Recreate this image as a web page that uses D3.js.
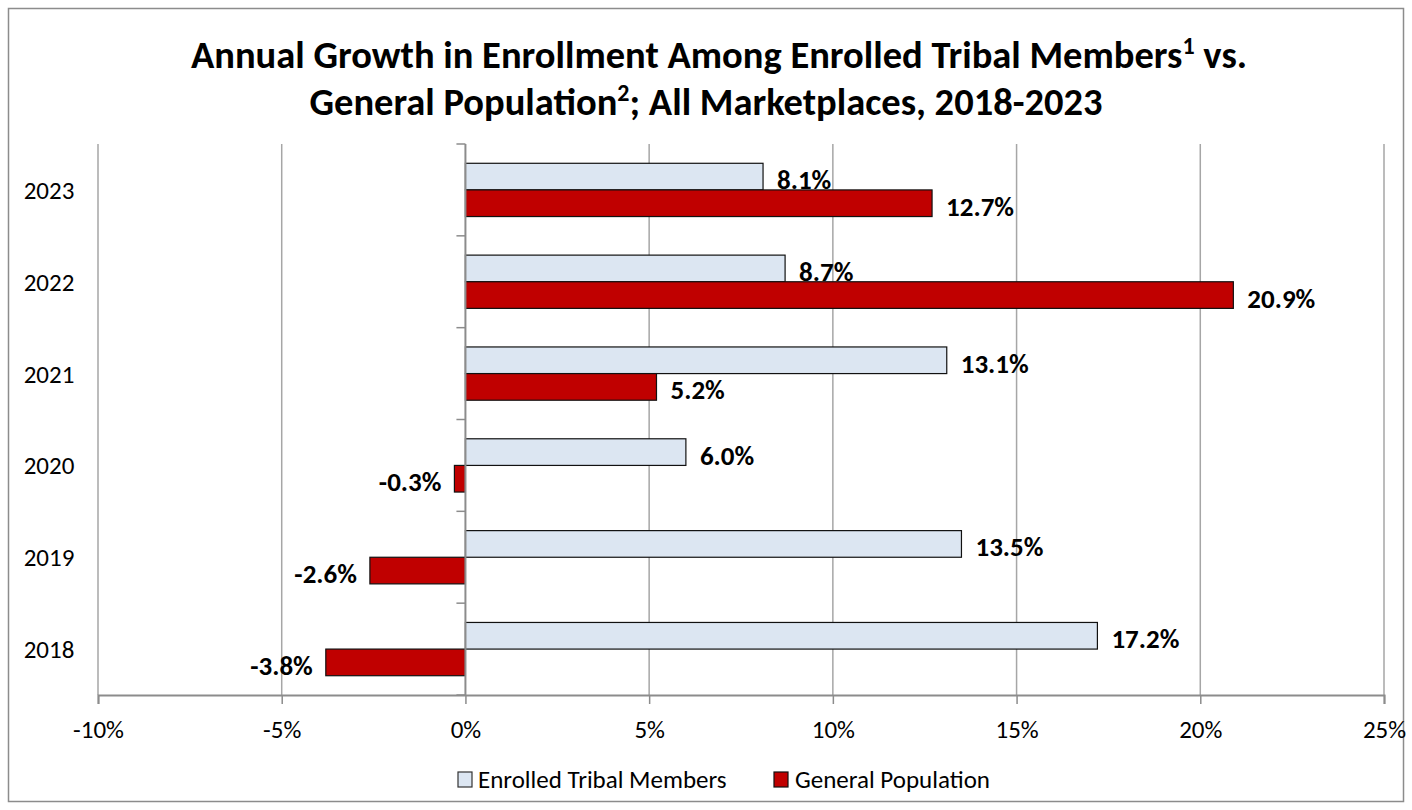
<!DOCTYPE html>
<html>
<head>
<meta charset="utf-8">
<script src="https://cdn.jsdelivr.net/npm/d3@7"></script>
<style>
  html, body { margin: 0; padding: 0; background: #fff; }
  svg { display: block; font-family: Carlito, Calibri, Lato, sans-serif; }
</style>
</head>
<body>
<svg id="chart" width="1412" height="810"></svg>
<script>
// Annual enrollment growth (%), tribal members vs. general population
const years = ["2023", "2022", "2021", "2020", "2019", "2018"];
const tribalGrowth = [8.1, 8.7, 13.1, 6.0, 13.5, 17.2];
const generalGrowth = [12.7, 20.9, 5.2, -0.3, -2.6, -3.8];
const xTicks = [-10, -5, 0, 5, 10, 15, 20, 25];
const seriesNames = ["Enrolled Tribal Members", "General Population"];
const seriesColors = ["#DCE6F2", "#C00000"];

const svg = d3.select("#chart");
const W = 1412, H = 810;
const pct = v => v.toFixed(1) + "%";

// outer frame
svg.append("rect")
  .attr("x", 8.5).attr("y", 8.5)
  .attr("width", W - 17).attr("height", H - 17)
  .attr("fill", "#fff").attr("stroke", "#8c8c8c").attr("stroke-width", 1.5);

// title
const title = svg.append("text")
  .attr("font-weight", "bold").attr("font-size", 38.5).attr("fill", "#000")
  .attr("text-anchor", "middle");
const l1 = title.append("tspan").attr("x", 719).attr("y", 68);
l1.append("tspan").text("Annual Growth in Enrollment Among Enrolled Tribal Members");
l1.append("tspan").attr("font-size", 24).attr("dy", -14).text("1");
l1.append("tspan").attr("dy", 14).text(" vs.");
const l2 = title.append("tspan").attr("x", 706).attr("y", 115);
l2.append("tspan").text("General Population");
l2.append("tspan").attr("font-size", 24).attr("dy", -14).text("2");
l2.append("tspan").attr("dy", 14).text("; All Marketplaces, 2018-2023");

// scales
const plot = { left: 98, right: 1384, top: 144, bottom: 695 };
const x = d3.scaleLinear().domain([-10, 25]).range([plot.left, plot.right]);
const y = d3.scaleBand().domain(years).range([plot.top, plot.bottom]).padding(0);
const barH = y.bandwidth() * 0.29;

// vertical gridlines
svg.append("g").selectAll("line")
  .data(xTicks.filter(d => d !== 0))
  .join("line")
  .attr("x1", d => x(d)).attr("x2", d => x(d))
  .attr("y1", plot.top).attr("y2", plot.bottom)
  .attr("stroke", "#a6a6a6").attr("stroke-width", 1.5);

// bottom axis
const xAxis = d3.axisBottom(x).tickValues(xTicks).tickSize(9).tickPadding(16)
  .tickFormat(d => d + "%");
const gx = svg.append("g").attr("transform", `translate(0,${plot.bottom})`).call(xAxis);
gx.select(".domain").attr("stroke", "#8c8c8c").attr("stroke-width", 2);
gx.selectAll(".tick line").attr("stroke", "#8c8c8c").attr("stroke-width", 1.5);
gx.selectAll(".tick text").attr("font-size", 25).attr("fill", "#000")
  .attr("font-family", "Carlito, Calibri, Lato, sans-serif");

// category axis at x = 0, ticks on band boundaries
const boundaries = years.map(d => y(d)).concat([plot.bottom]);
svg.append("g").selectAll("line")
  .data(boundaries)
  .join("line")
  .attr("x1", x(0) - 9).attr("x2", x(0))
  .attr("y1", d => d).attr("y2", d => d)
  .attr("stroke", "#8c8c8c").attr("stroke-width", 1.5);

// category labels on the left
svg.append("g").selectAll("text")
  .data(years)
  .join("text")
  .attr("x", 49).attr("y", d => y(d) + y.bandwidth() / 2 + 9)
  .attr("text-anchor", "middle").attr("font-size", 25).attr("fill", "#000")
  .text(d => d);

// bars with value labels
const series = [tribalGrowth, generalGrowth];
series.forEach((vals, si) => {
  const g = svg.append("g");
  const rows = years.map((yr, i) => ({ yr, v: vals[i] }));
  const top = d => y(d.yr) + y.bandwidth() / 2 - barH + si * barH;
  g.selectAll("rect")
    .data(rows)
    .join("rect")
    .attr("x", d => x(Math.min(0, d.v)))
    .attr("y", top)
    .attr("width", d => Math.abs(x(d.v) - x(0)))
    .attr("height", barH)
    .attr("fill", seriesColors[si])
    .attr("stroke", "#111").attr("stroke-width", 1.2);
  g.selectAll("text")
    .data(rows)
    .join("text")
    .attr("x", d => d.v >= 0 ? x(d.v) + 14 : x(d.v) - 13)
    .attr("y", d => top(d) + barH / 2 + 12.5)
    .attr("text-anchor", d => d.v >= 0 ? "start" : "end")
    .attr("font-weight", "bold").attr("font-size", 27).attr("fill", "#000")
    .text(d => pct(d.v));
});

// zero axis line drawn above the bars
svg.append("line")
  .attr("x1", x(0)).attr("x2", x(0))
  .attr("y1", plot.top).attr("y2", plot.bottom)
  .attr("stroke", "#8c8c8c").attr("stroke-width", 2);

// legend
const legend = svg.append("g");
const legendItems = [
  { name: seriesNames[0], color: seriesColors[0], stroke: "#333", mx: 458, tx: 478 },
  { name: seriesNames[1], color: seriesColors[1], stroke: "#111", mx: 774, tx: 795 }
];
legendItems.forEach(it => {
  legend.append("rect")
    .attr("x", it.mx).attr("y", 772).attr("width", 14).attr("height", 15)
    .attr("fill", it.color).attr("stroke", it.stroke).attr("stroke-width", 1.2);
  legend.append("text")
    .attr("x", it.tx).attr("y", 788)
    .attr("font-size", 25).attr("fill", "#000")
    .text(it.name);
});
</script>
</body>
</html>
